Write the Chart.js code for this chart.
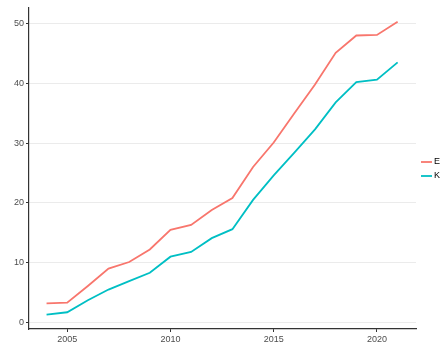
<!DOCTYPE html>
<html><head><meta charset="utf-8">
<script src="https://cdn.jsdelivr.net/npm/chart.js@4"></script>
<style>html,body{margin:0;padding:0;background:#fff;}#wrap{width:448px;height:358px;}</style>
</head><body><div id="wrap"><canvas id="c" width="448" height="358"></canvas></div>
<script>
const years = [2004,2005,2006,2007,2008,2009,2010,2011,2012,2013,2014,2015,2016,2017,2018,2019,2020,2021];
const seriesE = [3.2,3.3,6.1,9.0,10.1,12.2,15.5,16.3,18.8,20.8,26.0,30.1,35.0,39.8,45.1,48.0,48.1,50.3];
const seriesK = [1.3,1.7,3.7,5.5,6.9,8.3,11.0,11.8,14.1,15.6,20.5,24.6,28.4,32.3,36.8,40.2,40.6,43.5];
const xTicks = [2005,2010,2015,2020];
const yTicks = [0,10,20,30,40,50];
const seriesNames = ['E','K'];
const colors = ['#F8766D','#00BFC4'];

const legendPlugin = {
  id:'customLegend',
  afterDraw(chart){
    const ctx = chart.ctx;
    ctx.save();
    const ys = [162,176];
    chart.data.datasets.forEach((ds,i)=>{
      ctx.strokeStyle = ds.borderColor; ctx.lineWidth = 1.8;
      ctx.beginPath(); ctx.moveTo(421, ys[i]); ctx.lineTo(432, ys[i]); ctx.stroke();
      ctx.fillStyle = '#000'; ctx.font = '9px "Liberation Sans", Arial, sans-serif';
      ctx.textBaseline = 'middle'; ctx.textAlign = 'left';
      ctx.fillText(ds.label, 434, ys[i]);
    });
    ctx.restore();
  }
};

new Chart(document.getElementById('c'), {
  type:'line',
  data:{
    datasets:[
      {label:seriesNames[0], data:years.map((y,i)=>({x:y,y:seriesE[i]})), borderColor:colors[0], borderWidth:1.8, pointRadius:0, tension:0, fill:false},
      {label:seriesNames[1], data:years.map((y,i)=>({x:y,y:seriesK[i]})), borderColor:colors[1], borderWidth:1.8, pointRadius:0, tension:0, fill:false}
    ]
  },
  options:{
    responsive:false, animation:false, devicePixelRatio:1,
    layout:{padding:{left:0,top:5,right:32,bottom:0}},
    plugins:{legend:{display:false}, tooltip:{enabled:false}},
    scales:{
      x:{type:'linear', min:2003.15, max:2021.89,
        afterBuildTicks(s){ s.ticks = xTicks.map(v=>({value:v})); },
        afterFit(s){ s.height = 29; },
        grid:{drawOnChartArea:false, drawTicks:true, tickLength:3, tickColor:'#333'},
        border:{color:'#333', width:1.2},
        ticks:{color:'#4D4D4D', font:{size:9, family:'"Liberation Sans", Arial, sans-serif'}, padding:2, maxRotation:0, callback:v=>String(v)}
      },
      y:{type:'linear', min:-1.1, max:52.7,
        afterBuildTicks(s){ s.ticks = yTicks.map(v=>({value:v})); },
        afterFit(s){ s.width = 29; },
        grid:{color:'#EBEBEB', lineWidth:1, drawTicks:true, tickLength:3, tickColor:'#333'},
        border:{color:'#333', width:1.2},
        ticks:{color:'#4D4D4D', font:{size:9, family:'"Liberation Sans", Arial, sans-serif'}, padding:2}
      }
    }
  },
  plugins:[legendPlugin]
});
</script></body></html>
